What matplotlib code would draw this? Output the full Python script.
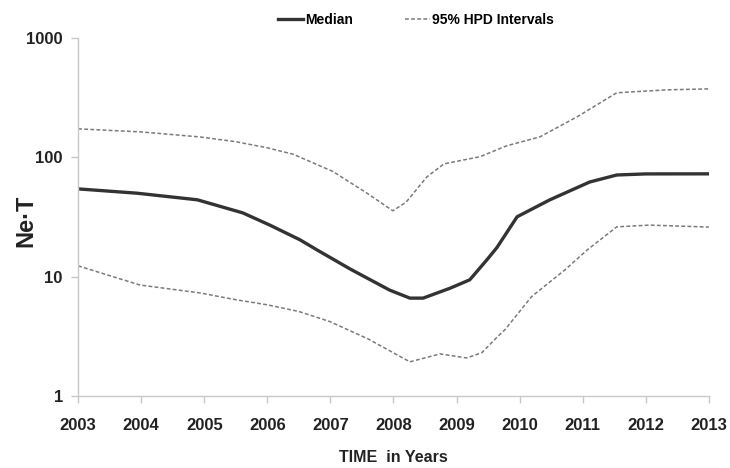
import matplotlib
matplotlib.use("Agg")
import matplotlib.pyplot as plt
from matplotlib.ticker import FixedLocator, FixedFormatter, NullLocator

# median Ne*T
med_year = [2003.0, 2003.93, 2004.89, 2005.61, 2006.04, 2006.52, 2006.79, 2007.31,
            2007.94, 2008.26, 2008.47, 2008.9, 2009.21, 2009.48, 2009.64, 2009.96,
            2010.48, 2011.11, 2011.54, 2012.0, 2013.0]
med_val = [54.3, 50, 44, 34.2, 27, 20.3, 16.7, 11.6,
           7.7, 6.6, 6.6, 8.0, 9.4, 13.8, 17.5, 31.7,
           44, 62, 71, 72.5, 72.6]

# upper 95% HPD
up_year = [2003.0, 2004.0, 2004.93, 2005.5, 2006.0, 2006.41, 2007.04, 2007.58, 2007.99,
           2008.2, 2008.53, 2008.8, 2009.37, 2009.8, 2010.32, 2010.91, 2011.54,
           2012.33, 2013.0]
up_val = [173, 163, 148, 135, 120, 106, 76, 50, 35.6,
          42, 68.5, 88, 101, 125, 148, 218, 347,
          367, 374]

# lower 95% HPD
lo_year = [2003.0, 2003.98, 2004.93, 2005.5, 2006.0, 2006.5, 2006.99, 2007.6,
           2008.26, 2008.74, 2009.16, 2009.4, 2009.64, 2009.77, 2010.19, 2010.72,
           2011.07, 2011.54, 2012.06, 2013.0]
lo_val = [12.3, 8.5, 7.3, 6.4, 5.8, 5.1, 4.2, 3.0,
          1.93, 2.25, 2.08, 2.3, 3.1, 3.6, 6.8, 11.4,
          16.7, 26.1, 27, 26]

years = list(range(2003, 2014))
yticks = [1, 10, 100, 1000]

plt.rcParams['font.family'] = ['Liberation Sans Narrow', 'Liberation Sans', 'DejaVu Sans']

fig = plt.figure(figsize=(7.3, 4.68), dpi=100)
ax = fig.add_axes([0.107, 0.154, 0.864, 0.765])

ax.plot(med_year, med_val, color='#333333', lw=2.4, label='Median')
ax.plot(up_year, up_val, color='#7a7a7a', lw=1.1, ls=(0, (2.5, 1.5)), label='95% HPD Intervals')
ax.plot(lo_year, lo_val, color='#7a7a7a', lw=1.1, ls=(0, (2.5, 1.5)))

ax.set_yscale('log')
ax.set_ylim(1, 1000)
ax.set_xlim(2003, 2013)
ax.yaxis.set_major_locator(FixedLocator(yticks))
ax.yaxis.set_major_formatter(FixedFormatter([str(v) for v in yticks]))
ax.yaxis.set_minor_locator(NullLocator())
ax.set_xticks(years)
ax.set_xticklabels([str(y) for y in years])

for s in ['top', 'right']:
    ax.spines[s].set_visible(False)
for s in ['left', 'bottom']:
    ax.spines[s].set_color('#c8c8c8')
    ax.spines[s].set_linewidth(1.0)
ax.tick_params(axis='both', colors='#c8c8c8', length=5, width=1, labelcolor='#222222',
               labelsize=12)
for lab in ax.get_xticklabels() + ax.get_yticklabels():
    lab.set_fontweight('bold')
ax.tick_params(axis='x', pad=11)
ax.tick_params(axis='y', pad=6)

ax.set_ylabel('Ne·T', fontsize=17, fontweight='bold', color='#222222')
ax.yaxis.set_label_coords(-0.064, 0.49)
ax.set_xlabel('TIME  in Years', fontsize=11.5, fontweight='bold', color='#222222', labelpad=12)

fig.legend(loc='upper center', bbox_to_anchor=(0.57, 1.0), ncol=2, frameon=False,
           prop={'size': 10, 'weight': 'bold'}, handlelength=1.8, handletextpad=0.1,
           columnspacing=3.8)

fig.savefig('out.png', dpi=100)
